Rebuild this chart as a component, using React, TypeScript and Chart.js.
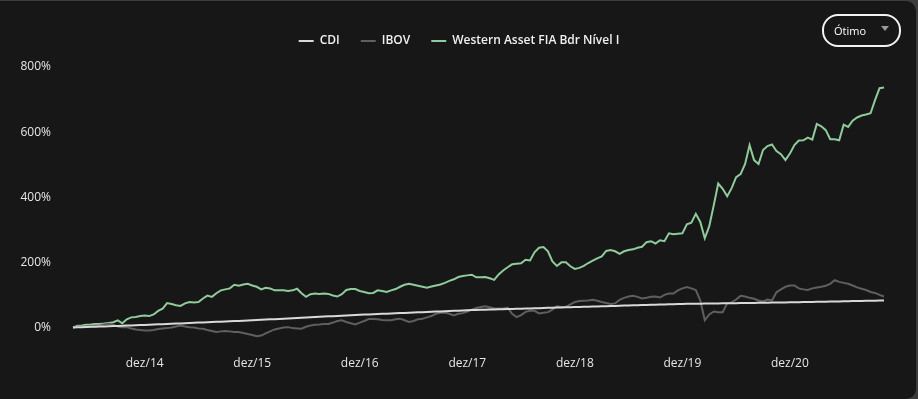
import React, { useEffect, useRef } from 'react';
import { Chart, registerables } from 'chart.js';

Chart.register(...registerables);

// month names used in the date categories (pt-BR)
const MONTHS = ['jan', 'fev', 'mar', 'abr', 'mai', 'jun', 'jul', 'ago', 'set', 'out', 'nov', 'dez'];

// semi-monthly observation dates: 01/abr/2014 ... 15/out/2021
const dates: string[] = [];
for (let y = 2014; y <= 2021; y++) {
  for (let m = 0; m < 12; m++) {
    if (y === 2014 && m < 3) continue;
    if (y === 2021 && m > 9) continue;
    dates.push(`01/${MONTHS[m]}/${y}`);
    dates.push(`15/${MONTHS[m]}/${y}`);
  }
}

const seriesNames = ['CDI', 'IBOV', 'Western Asset FIA Bdr Nível I'];
const yTicks = [0, 200, 400, 600, 800];

// cumulative return, %
const cdi = [
  0, 0.5, 0.9, 1.4, 1.9, 2.4, 2.8, 3.3, 3.8, 4.3,
  4.8, 5.3, 5.8, 6.3, 6.8, 7.3, 7.8, 8.4, 9.0, 9.6,
  10.2, 10.8, 11.3, 11.9, 12.5, 13.1, 13.7, 14.3, 14.9, 15.5,
  16.1, 16.7, 17.3, 17.8, 18.4, 19.0, 19.6, 20.2, 20.8, 21.4,
  22.0, 22.7, 23.4, 24.1, 24.9, 25.6, 26.3, 27.0, 27.7, 28.4,
  29.1, 29.8, 30.5, 31.3, 32.0, 32.7, 33.4, 34.1, 34.8, 35.5,
  36.2, 36.9, 37.6, 38.4, 39.1, 39.7, 40.2, 40.8, 41.4, 42.0,
  42.5, 43.1, 43.7, 44.3, 44.8, 45.4, 46.0, 46.6, 47.1, 47.7,
  48.3, 48.9, 49.4, 50.0, 50.6, 51.2, 51.7, 52.3, 52.9, 53.3,
  53.7, 54.1, 54.5, 54.9, 55.3, 55.7, 56.1, 56.5, 57.0, 57.4,
  57.8, 58.2, 58.6, 59.0, 59.4, 59.8, 60.2, 60.6, 61.1, 61.5,
  61.9, 62.3, 62.7, 63.1, 63.5, 63.9, 64.3, 64.7, 65.1, 65.5,
  65.9, 66.3, 66.7, 67.1, 67.5, 67.9, 68.3, 68.7, 69.1, 69.5,
  69.9, 70.3, 70.7, 71.1, 71.5, 71.9, 72.3, 72.5, 72.7, 72.9,
  73.1, 73.3, 73.5, 73.7, 73.9, 74.1, 74.3, 74.5, 74.7, 74.9,
  75.1, 75.3, 75.5, 75.7, 75.9, 76.1, 76.3, 76.5, 76.7, 76.9,
  77.1, 77.4, 77.7, 77.9, 78.2, 78.5, 78.8, 79.0, 79.3, 79.6,
  79.9, 80.1, 80.4, 80.7, 81.0, 81.2, 81.5, 81.8, 82.1, 82.3,
  82.6, 82.9,
];

const ibov = [
  0, 2, 2, 3, 3, 5, 6, 9, 11, 8,
  3, 1, 1, -3, -6, -8, -9, -9, -8, -5,
  -3, -2, 0, 3, 6, 3, 1, 0, -3, -4,
  -8, -11, -14, -12, -11, -12, -14, -14, -17, -20,
  -23, -27, -25, -18, -12, -6, -3, 0, 1, -2,
  -3, -4, 2, 6, 8, 9, 11, 11, 15, 20,
  22, 17, 13, 9, 15, 20, 26, 26, 25, 23,
  22, 22, 25, 27, 22, 17, 20, 25, 27, 31,
  35, 42, 45, 46, 42, 37, 42, 44, 49, 55,
  60, 63, 65, 62, 58, 58, 58, 61, 42, 32,
  38, 48, 51, 51, 43, 45, 47, 55, 65, 63,
  63, 71, 78, 81, 82, 83, 85, 82, 78, 75,
  72, 74, 85, 91, 95, 97, 94, 89, 91, 94,
  95, 92, 100, 104, 104, 114, 120, 124, 120, 115,
  83, 22, 40, 49, 47, 47, 74, 77, 86, 97,
  95, 91, 88, 83, 80, 86, 83, 108, 117, 125,
  129, 129, 120, 117, 115, 120, 123, 125, 128, 134,
  145, 140, 137, 134, 129, 123, 119, 115, 109, 106,
  100, 95,
];

const westernAsset = [
  0, 5, 6, 8, 9, 11, 11, 12, 14, 16,
  22, 13, 25, 31, 32, 35, 37, 35, 40, 51,
  58, 75, 72, 68, 66, 74, 78, 77, 78, 89,
  98, 94, 105, 114, 117, 120, 131, 128, 132, 134,
  129, 125, 117, 122, 120, 114, 114, 114, 112, 114,
  119, 105, 94, 102, 104, 103, 104, 103, 98, 95,
  102, 115, 118, 118, 112, 109, 105, 106, 114, 112,
  109, 114, 118, 125, 131, 134, 131, 128, 125, 122,
  126, 129, 132, 137, 143, 148, 155, 158, 160, 162,
  154, 154, 155, 151, 146, 163, 175, 185, 194, 196,
  197, 208, 206, 231, 245, 247, 234, 203, 189, 200,
  200, 188, 180, 183, 189, 198, 205, 212, 218, 235,
  238, 234, 226, 234, 238, 240, 245, 248, 262, 265,
  258, 268, 265, 289, 286, 288, 289, 317, 322, 349,
  324, 274, 311, 375, 442, 426, 403, 428, 462, 471,
  502, 560, 514, 502, 545, 557, 562, 542, 532, 514,
  534, 560, 574, 575, 583, 577, 625, 618, 606, 578,
  578, 575, 623, 616, 635, 645, 651, 654, 658, 698,
  735, 737,
];

const colors = ['#d9d9d9', '#5f5f5f', '#8fcb9b'];

export default function App() {
  const canvasRef = useRef<HTMLCanvasElement | null>(null);

  useEffect(() => {
    if (!canvasRef.current) return;
    const values = [cdi, ibov, westernAsset];
    const font = { family: "'Open Sans', 'Noto Sans', sans-serif", size: 12 };
    const chart = new Chart(canvasRef.current, {
      type: 'line',
      data: {
        labels: dates,
        datasets: seriesNames.map((name, i) => ({
          label: name,
          data: values[i],
          borderColor: colors[i],
          backgroundColor: colors[i],
          borderWidth: 2,
          pointRadius: 0,
          pointHoverRadius: 0,
          tension: 0,
          fill: false,
        })),
      },
      options: {
        responsive: false,
        animation: false,
        devicePixelRatio: 1,
        layout: { padding: { top: 14, left: 0, right: 0, bottom: 0 } },
        plugins: {
          tooltip: { enabled: false },
          legend: {
            position: 'top',
            labels: {
              color: '#f0f0f0',
              font: { ...font, weight: '600' },
              boxWidth: 15,
              boxHeight: 2,
              padding: 21,
              generateLabels: (c: any) =>
                (Chart.defaults.plugins.legend.labels as any)
                  .generateLabels(c)
                  .map((l: any) => ({ ...l, lineWidth: 0 })),
            },
          },
        },
        scales: {
          x: {
            type: 'category',
            grid: { display: false, drawTicks: false },
            border: { display: false },
            ticks: {
              color: '#e6e6e6',
              font,
              autoSkip: false,
              maxRotation: 0,
              padding: 9,
              callback: (v: any) => 'dez/' + String(dates[v as number]).slice(-2),
            },
            afterBuildTicks: (s: any) => {
              s.ticks = s.ticks.filter((t: any) => String(dates[t.value]).startsWith('01/dez'));
            },
            afterFit: (s: any) => {
              s.height = 52;
            },
          },
          x2: {
            type: 'category',
            position: 'top',
            display: true,
            grid: { display: false, drawTicks: false },
            border: { display: false },
            ticks: { display: false },
            afterFit: (s: any) => {
              s.height = 10;
            },
          },
          y: {
            type: 'linear',
            min: -60,
            max: 800,
            grid: { display: false, drawTicks: false },
            border: { display: false },
            ticks: {
              color: '#e6e6e6',
              font,
              padding: 22,
              callback: (v: any) => v + '%',
            },
            afterBuildTicks: (s: any) => {
              s.ticks = yTicks.map((v) => ({ value: v }));
            },
            afterFit: (s: any) => {
              s.width = 73;
            },
          },
          y2: {
            type: 'linear',
            position: 'right',
            display: true,
            grid: { display: false, drawTicks: false },
            border: { display: false },
            ticks: { display: false },
            afterFit: (s: any) => {
              s.width = 34;
            },
          },
        },
      } as any,
    });
    return () => chart.destroy();
  }, []);

  return (
    <div
      style={{
        position: 'fixed',
        left: 0,
        top: 0,
        width: 918,
        height: 399,
        background: '#3c3c3c',
        overflow: 'hidden',
      }}
    >
      <div
        style={{
          position: 'absolute',
          left: -20,
          top: 1,
          width: 936,
          height: 398,
          borderRadius: 10,
          background: '#171717',
        }}
      />
      <canvas
        ref={canvasRef}
        width={918}
        height={399}
        style={{ position: 'absolute', left: 0, top: 0, width: 918, height: 399 }}
      />
      <div
        style={{
          position: 'absolute',
          left: 822,
          top: 14,
          width: 79,
          height: 33,
          boxSizing: 'border-box',
          border: '2px solid #f2f2f2',
          borderRadius: 16,
          display: 'flex',
          alignItems: 'center',
          paddingLeft: 10,
          fontFamily: "'Open Sans', 'Noto Sans', sans-serif",
          fontSize: 11,
          color: '#ffffff',
        }}
      >
        <span>Ótimo</span>
        <span
          style={{
            position: 'absolute',
            left: 57,
            top: 10,
            width: 0,
            height: 0,
            borderLeft: '4.5px solid transparent',
            borderRight: '4.5px solid transparent',
            borderTop: '5px solid #9a9a9a',
          }}
        />
      </div>
    </div>
  );
}
